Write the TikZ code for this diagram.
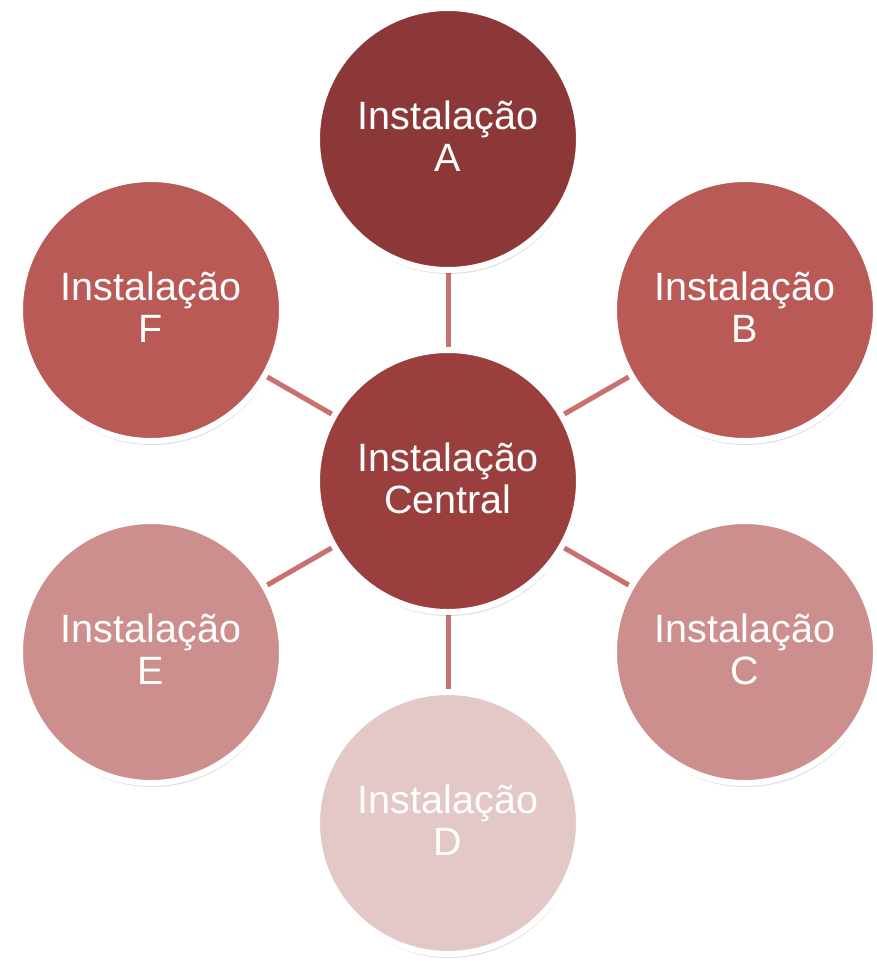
\documentclass[tikz,border=0pt]{standalone}
\usepackage{fontspec}
\setmainfont{Liberation Sans}
\usetikzlibrary{backgrounds,shadows}
\definecolor{cA}{HTML}{8C3838}
\definecolor{cM}{HTML}{9A3E3E}
\definecolor{cB}{HTML}{B95A56}
\definecolor{cC}{HTML}{CD8F8D}
\definecolor{cD}{HTML}{E4C8C8}
\definecolor{linkc}{HTML}{C97070}
\begin{document}
\begin{tikzpicture}[x=1pt,y=-1pt,
  bubble/.style={circle, draw=white, line width=6pt, minimum size=262pt, inner sep=0pt,
    text=white, align=center, font=\fontsize{39.5}{42}\selectfont, text depth=5pt,
    drop shadow={shadow xshift=1pt, shadow yshift=-4pt, opacity=0.13, fill=black}},
  link/.style={draw=linkc, line width=5pt}]
\useasboundingbox (0,0) rectangle (877,967);
\node[bubble, fill=cM] (M) at (448,481) {Instalação\\Central};
\node[bubble, fill=cA] (A) at (448,139) {Instalação\\A};
\node[bubble, fill=cB] (B) at (745,310) {Instalação\\B};
\node[bubble, fill=cC] (C) at (745,652) {Instalação\\C};
\node[bubble, fill=cD] (D) at (448,823) {Instalação\\D};
\node[bubble, fill=cC] (E) at (151,652) {Instalação\\E};
\node[bubble, fill=cB] (F) at (151,310) {Instalação\\F};
\begin{scope}[on background layer]
\draw[link] (M) -- (A);
\draw[link] (M) -- (B);
\draw[link] (M) -- (C);
\draw[link] (M) -- (D);
\draw[link] (M) -- (E);
\draw[link] (M) -- (F);
\end{scope}
\end{tikzpicture}
\end{document}
